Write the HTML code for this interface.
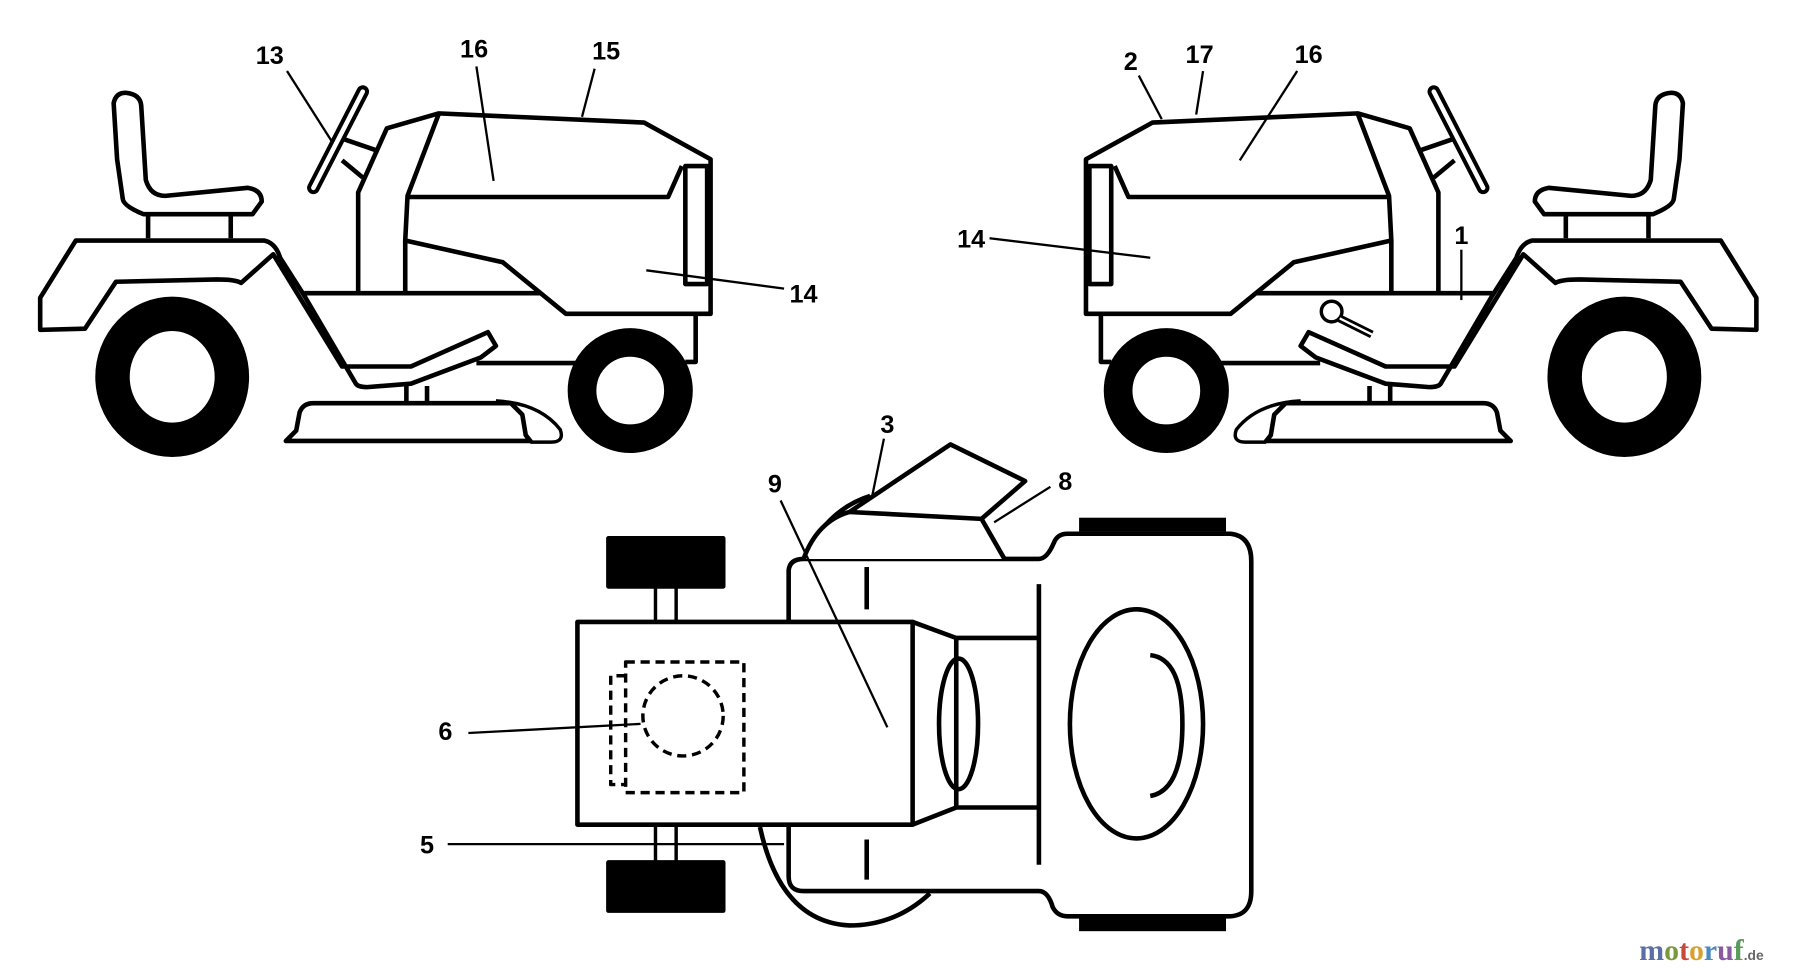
<!DOCTYPE html>
<html><head><style>html,body{margin:0;padding:0;background:#fff;overflow:hidden}svg{display:block}</style></head><body>
<svg width="1800" height="977" viewBox="0 0 1568 853" preserveAspectRatio="none" xmlns="http://www.w3.org/2000/svg">
<defs>
<g id="trac" fill="none" stroke="#000" stroke-width="4" stroke-linejoin="round">
 <path d="M102,139 L99,90 Q101,81 109,81 Q122,82 123,92 L127,157 Q131,171 144,171 L216,164 Q228,166 228,176 L220,187 L125,187 Q108,180 107,174 Z" fill="#fff"/>
 <line x1="129" y1="187" x2="129" y2="208"/><line x1="201" y1="187" x2="201" y2="208"/>
 <path d="M35,288 L35,260 L66,210 L230,210 Q240,212 244,225 L265,258 L310,335 Q312,338 320,338 L358,335 L419,312 L432,302 L425,290 L358,320 L298,320 L238,222 L210,247 Q205,244 189,244 L101,246 L74,287 Z" fill="#fff"/>
 <line x1="273" y1="164" x2="316" y2="80" stroke-width="11" stroke-linecap="round"/>
 <line x1="273" y1="164" x2="316" y2="80" stroke="#fff" stroke-width="4" stroke-linecap="round"/>
 <line x1="298" y1="121" x2="330" y2="132"/><line x1="298" y1="140" x2="316" y2="155"/>
 <path d="M312,256 L312,168 L337,112 L382,99 L561,107 L619,139 L619,274 L493,274 L438,229 L353,210 L355,171 L382,100"/>
 <line x1="353" y1="210" x2="353" y2="256"/>
 <path d="M355,172 L582,172 L594,145"/>
 <rect x="597" y="145" width="19" height="103"/>
 <line x1="265" y1="256" x2="470" y2="256"/>
 <path d="M606,274 L606,316 L597,316 M415,317 L520,317"/>
 <ellipse cx="150" cy="329" rx="52" ry="55" stroke-width="30" fill="#fff"/>
 <ellipse cx="549" cy="341" rx="42" ry="42" stroke-width="25" fill="#fff"/>
 <line x1="354" y1="337" x2="354" y2="352"/><line x1="372" y1="337" x2="372" y2="352"/>
 <path d="M249,385 L258,376 L261,360 Q264,352 273,352 L445,352 L455,362 L458,380 L462,385 Z" fill="#fff"/>
 <path d="M432,350 Q470,352 488,375 Q492,386 480,386 L462,386" stroke-width="3"/>
</g>
</defs>
<rect width="1568" height="853" fill="#fff"/>
<use href="#trac"/>
<use href="#trac" transform="translate(1565,0) scale(-1,1)"/>
<g fill="none" stroke="#000" stroke-width="4">
 <circle cx="1160" cy="272" r="9" fill="#fff" stroke-width="3"/>
 <line x1="1167" y1="278" x2="1195" y2="292" stroke-width="7"/>
 <line x1="1167" y1="278" x2="1195" y2="292" stroke="#fff" stroke-width="2"/>
</g>
<g fill="none" stroke="#000" stroke-width="4" stroke-linejoin="round">
 <path d="M700,488 Q720,445 758,433 M810,780 Q780,808 740,808 Q680,805 662,722"/>
 <path d="M687,543 L687,498 Q688,488 700,488 L905,488 Q912,488 918,474 Q921,466 930,466 L1072,466 Q1090,468 1090,490 L1090,778 Q1090,800 1070,800 L930,800 Q921,800 917,792 Q913,778 905,778 L700,778 Q687,778 687,765 L687,720"/>
 <rect x="503" y="543" width="292" height="177" fill="#fff"/>
 <rect x="530" y="470" width="100" height="42" fill="#000"/>
 <rect x="530" y="753" width="100" height="42" fill="#000"/>
 <rect x="940" y="452" width="128" height="12" fill="#000" stroke="none"/>
 <rect x="940" y="801" width="128" height="12" fill="#000" stroke="none"/>
 <path d="M571,512 V543 M589,512 V543 M571,720 V753 M589,720 V753" stroke-width="3"/>
 <path d="M795,543 L833,557 L833,705 L795,720 M833,557 L905,557 M833,705 L905,705"/>
 <ellipse cx="835" cy="632" rx="17" ry="57"/>
 <line x1="905" y1="510" x2="905" y2="755"/>
 <path d="M755,495 V532 M755,733 V768"/>
 <ellipse cx="990" cy="632" rx="58" ry="100"/>
 <path d="M1002,572 Q1030,575 1030,632 Q1030,690 1002,695"/>
 <path d="M700,488 Q712,455 740,447 L855,453 L875,488 M740,447 L828,388 L893,420 L855,453" fill="#fff"/>
 <g stroke-dasharray="8,5" stroke-width="3">
  <rect x="545" y="578" width="103" height="114"/>
  <circle cx="595" cy="625" r="35"/>
  <path d="M545,590 H532 V685 H545"/>
 </g>
</g>
<g stroke="#000" stroke-width="2" fill="none">
 <line x1="250" y1="62" x2="290" y2="125"/>
 <line x1="415" y1="58" x2="430" y2="158"/>
 <line x1="518" y1="60" x2="507" y2="102"/>
 <line x1="563" y1="236" x2="683" y2="252"/>
 <line x1="992" y1="66" x2="1012" y2="104"/>
 <line x1="1048" y1="62" x2="1042" y2="100"/>
 <line x1="1130" y1="62" x2="1080" y2="140"/>
 <line x1="862" y1="208" x2="1002" y2="225"/>
 <line x1="1273" y1="218" x2="1273" y2="262"/>
 <line x1="770" y1="383" x2="760" y2="432"/>
 <line x1="680" y1="437" x2="773" y2="635"/>
 <line x1="915" y1="425" x2="866" y2="456"/>
 <line x1="408" y1="640" x2="558" y2="632"/>
 <line x1="390" y1="737" x2="683" y2="737"/>
</g>
<g font-family="Liberation Sans, sans-serif" font-weight="bold" font-size="22" text-anchor="middle">
 <text x="235" y="56">13</text><text x="413" y="50">16</text><text x="528" y="52">15</text>
 <text x="700" y="264">14</text><text x="985" y="61">2</text><text x="1045" y="55">17</text>
 <text x="1140" y="55">16</text><text x="846" y="216">14</text><text x="1273" y="213">1</text>
 <text x="773" y="378">3</text><text x="675" y="430">9</text><text x="928" y="428">8</text>
 <text x="388" y="646">6</text><text x="372" y="745">5</text>
</g>
<text x="1428" y="838" font-family="Liberation Serif, serif" font-weight="bold" font-size="26"><tspan fill="#5a6fa8">m</tspan><tspan fill="#7a9a3a">o</tspan><tspan fill="#c84a3a">t</tspan><tspan fill="#d8a030">o</tspan><tspan fill="#4a8ac0">r</tspan><tspan fill="#8a5aa0">u</tspan><tspan fill="#5a9a5a">f</tspan><tspan fill="#666" font-size="12" font-family="Liberation Sans, sans-serif">.de</tspan></text>
</svg>
</body></html>
